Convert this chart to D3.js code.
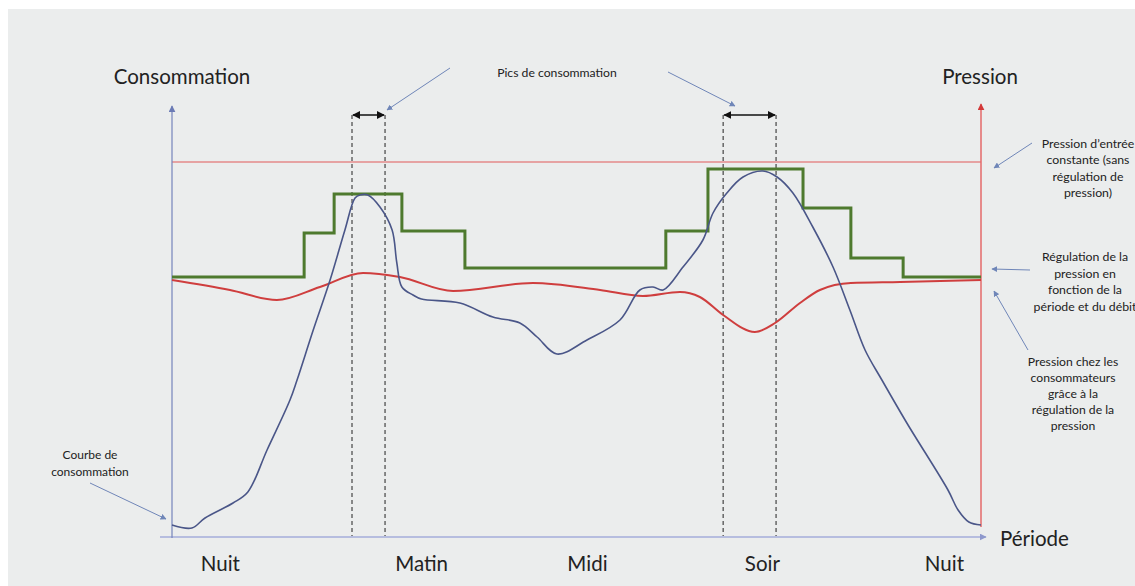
<!DOCTYPE html>
<html><head><meta charset="utf-8">
<script src="https://cdn.jsdelivr.net/npm/d3@7"></script>
<style>
html,body{margin:0;padding:0;background:#fff;}
svg{display:block;}
text{font-family:Lato,"Open Sans",sans-serif;fill:#222;}
</style></head>
<body>
<svg id="c" width="1135" height="586"></svg>
<script>
// ---- data (x in hours 0..24, y in relative units 0..100) ----
const periods = ["Nuit","Matin","Midi","Soir","Nuit"];
const periodHours = [1.42, 7.39, 12.31, 17.5, 22.9];

const consHours = [0,0.59,0.98,1.81,2.25,2.82,3.5,3.71,4.19,4.69,5.13,5.43,5.58,5.81,6.17,6.53,6.67,6.82,7.15,7.4,8.54,9.52,10.32,10.83,11.42,12.31,13.29,13.88,14.27,14.57,15.16,15.75,16.05,16.46,16.94,17.53,17.95,18.42,19.01,19.61,20.11,20.56,21.06,21.8,23.02,23.32,23.64,24];
const consValues = [3,2.25,4.75,8.5,11.25,21.75,34.25,39.25,51.75,64.25,76.75,84.75,85.5,85.5,82.5,76.75,68.5,62.5,60.5,59.5,58.5,55,53.5,50,45.75,49.25,54.25,61.75,62.5,61.75,67.5,74.25,81,86,90,91.5,90,86,77.5,67.5,56.75,46.75,39.25,28.5,11.75,6.75,3.75,3];

const presHours = [0,1.72,3.11,4.39,5.67,6.76,8.34,10.71,12.7,13.97,15.07,15.66,16.35,17.29,17.89,18.63,19.22,20.14,21.6,24];
const presValues = [64.25,61.75,59.25,62.5,66,65,61.5,63.5,61.75,60.25,61.25,60,55.5,51.25,53.5,58.5,61.75,63.5,63.75,64.25];

const stepHours = [0,3.92,4.81,6.82,8.69,14.65,15.9,18.72,20.14,21.69,24];
const stepValues = [65,76,85.75,76.5,67.25,76.5,92,82.25,69.75,65,65];

const inletPressure = 93.75;
const peakWindows = [[5.34,6.32],[16.35,17.92]];

// ---- layout ----
const svg = d3.select("#c");
svg.append("rect").attr("x",8).attr("y",9).attr("width",1127).attr("height",577).attr("fill","#ebeded");

const x = d3.scaleLinear().domain([0,24]).range([172,981]);
const y = d3.scaleLinear().domain([0,100]).range([537,137]);

const defs = svg.append("defs");
function marker(id,color,w,h){
  defs.append("marker").attr("id",id).attr("viewBox","0 0 10 10").attr("refX",9).attr("refY",5)
   .attr("markerWidth",w).attr("markerHeight",h).attr("markerUnits","userSpaceOnUse").attr("orient","auto-start-reverse")
   .append("path").attr("d","M0,0L10,5L0,10z").attr("fill",color);
}
marker("mBlue","#6b7bb5",7,7);
marker("mRed","#d33a3a",7,7);
marker("mAx","#8e98cc",7,7);
marker("mBlk","#111",8,8);
marker("mAnn","#6f86b8",6,6);

// constant inlet pressure line
svg.append("line").attr("x1",x(0)).attr("x2",x(24)).attr("y1",y(inletPressure)).attr("y2",y(inletPressure))
  .attr("stroke","#e6a3a3").attr("stroke-width",2);

// dashed peak windows
peakWindows.forEach(w=>{
  w.forEach(h=>{
    svg.append("line").attr("x1",x(h)).attr("x2",x(h)).attr("y1",115).attr("y2",y(0))
      .attr("stroke","#222").attr("stroke-width",1).attr("stroke-dasharray","4,3");
  });
  svg.append("line").attr("x1",x(w[0])+1).attr("x2",x(w[1])-1).attr("y1",115).attr("y2",115)
    .attr("stroke","#111").attr("stroke-width",1.5)
    .attr("marker-start","url(#mBlk)").attr("marker-end","url(#mBlk)");
});

// axes
svg.append("line").attr("x1",160).attr("x2",986).attr("y1",y(0)).attr("y2",y(0))
  .attr("stroke","#b6bddf").attr("stroke-width",2).attr("marker-end","url(#mAx)");
svg.append("line").attr("x1",x(0)).attr("x2",x(0)).attr("y1",y(0)+1).attr("y2",106)
  .attr("stroke","#7584bb").attr("stroke-width",1.2).attr("marker-end","url(#mBlue)");
svg.append("line").attr("x1",x(24)).attr("x2",x(24)).attr("y1",y(0)-10).attr("y2",104)
  .attr("stroke","#e46a6a").attr("stroke-width",1.5).attr("marker-end","url(#mRed)");

// period labels via axis
const xAxis = d3.axisBottom(x).tickValues(periodHours).tickFormat((d,i)=>periods[i]).tickSize(0).tickPadding(0);
const gx = svg.append("g").attr("transform",`translate(0,${y(0)})`).call(xAxis);
gx.select(".domain").remove();
gx.selectAll("text").attr("dy",null).attr("y",34).style("font-family","Lato,sans-serif").style("font-size","20.5px").attr("fill","#222");

// pressure regulation steps
const stepLine = d3.line().x((d,i)=>x(stepHours[i])).y(d=>y(d)).curve(d3.curveStepAfter);
svg.append("path").attr("d",stepLine(stepValues)).attr("fill","none").attr("stroke","#4e7a2e").attr("stroke-width",3);

// consumer pressure
const presLine = d3.line().x((d,i)=>x(presHours[i])).y(d=>y(d)).curve(d3.curveMonotoneX);
svg.append("path").attr("d",presLine(presValues)).attr("fill","none").attr("stroke","#cf3e3e").attr("stroke-width",2);

// consumption
const consLine = d3.line().x((d,i)=>x(consHours[i])).y(d=>y(d)).curve(d3.curveCatmullRom.alpha(0.5));
svg.append("path").attr("d",consLine(consValues)).attr("fill","none").attr("stroke","#4a5688").attr("stroke-width",1.6);

// titles
svg.append("text").attr("x",182).attr("y",84).attr("text-anchor","middle").style("font-size","20.5px").text("Consommation");
svg.append("text").attr("x",980).attr("y",84).attr("text-anchor","middle").style("font-size","20.5px").text("Pression");
svg.append("text").attr("x",1000).attr("y",546).style("font-size","20.5px").text("Période");

// annotations
function multi(lines,cx,y0,lh,fs){
  const t = svg.append("text").attr("text-anchor","middle").style("font-size",fs+"px");
  lines.forEach((l,i)=>t.append("tspan").attr("x",cx).attr("y",y0+i*lh).text(l));
}
function arrow(x1,y1,x2,y2){
  svg.append("line").attr("x1",x1).attr("y1",y1).attr("x2",x2).attr("y2",y2)
    .attr("stroke","#6f86b8").attr("stroke-width",1).attr("marker-end","url(#mAnn)");
}
svg.append("text").attr("x",557).attr("y",77).attr("text-anchor","middle").style("font-size","12.2px").text("Pics de consommation");
arrow(450,68,387,110);
arrow(668,72,735,106);

multi(["Pression d’entrée","constante (sans","régulation de","pression)"],1088,148,16.3,12.3);
arrow(1032,143,994,168);
multi(["Régulation de la","pression en","fonction de la","période et du débit"],1085,261,16.7,12.3);
arrow(1030,270,992,269);
multi(["Pression chez les","consommateurs","grâce à la","régulation de la","pression"],1073,366,16,12.2);
arrow(1028,350,994,291);
multi(["Courbe de","consommation"],90,459,16.5,12);
arrow(90,483,166,519);
</script>
</body></html>
